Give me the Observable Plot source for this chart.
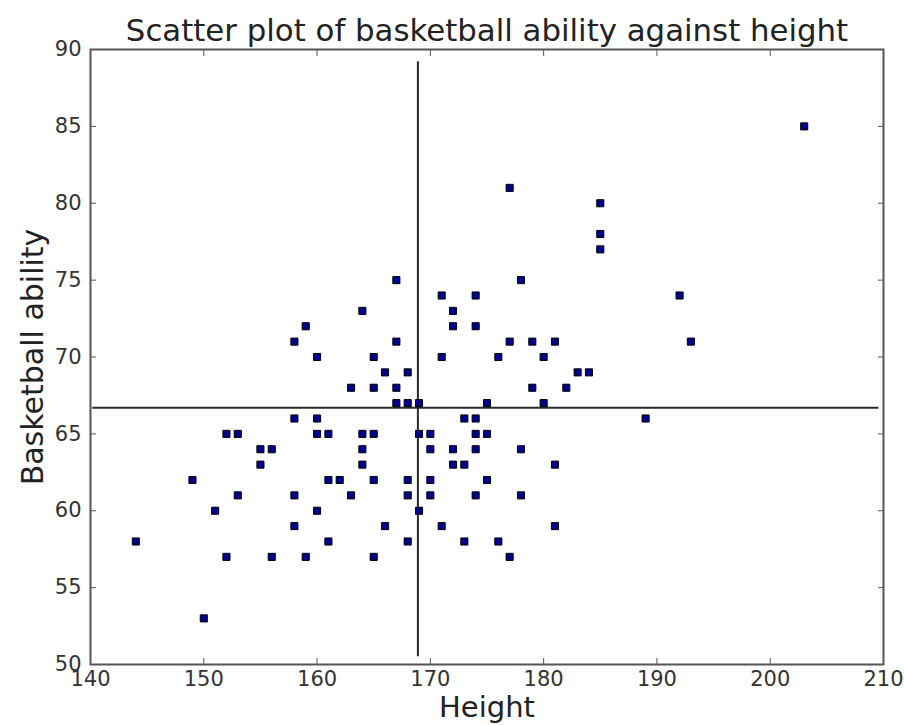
<!DOCTYPE html>
<html>
<head>
<meta charset="utf-8">
<script src="https://cdn.jsdelivr.net/npm/d3@7"></script>
<script src="https://cdn.jsdelivr.net/npm/@observablehq/plot@0.6"></script>
<style>
  html, body { margin: 0; padding: 0; background: #fff; }
  #chart svg { display: block; font-family: "DejaVu Sans", sans-serif; }
</style>
</head>
<body>
<div id="chart"></div>
<script>
// Data
const heights   = [144,149,150,151,152,152,153,153,155,155,156,156,
                   158,158,158,158,159,159,160,160,160,160,161,161,161,162,
                   163,163,164,164,164,164,165,165,165,165,165,166,166,
                   167,167,167,167,168,168,168,168,168,169,169,169,
                   170,170,170,170,171,171,171,172,172,172,172,173,173,173,
                   174,174,174,174,174,174,175,175,175,176,176,177,177,177,
                   178,178,178,179,179,180,180,181,181,181,182,183,184,
                   185,185,185,189,192,193,203];
const abilities = [58,62,53,60,65,57,65,61,64,63,64,57,
                   71,66,61,59,72,57,70,66,65,60,65,62,58,62,
                   68,61,73,65,64,63,70,68,65,62,57,69,59,
                   75,71,68,67,69,67,62,61,58,67,65,60,
                   65,64,62,61,74,70,59,73,72,64,63,66,63,58,
                   74,72,66,65,64,61,67,65,62,70,58,81,71,57,
                   75,64,61,71,68,70,67,71,63,59,68,69,69,
                   80,78,77,66,74,71,85];

// Reference lines
const meanHeight = 168.9;
const meanAbility = 66.7;
const vLineSpan = [50.5, 89.2];     // ability range covered by the vertical line
const hLineSpan = [140.2, 209.6];   // height range covered by the horizontal line

const xTicks = [140, 150, 160, 170, 180, 190, 200, 210];
const yTicks = [50, 55, 60, 65, 70, 75, 80, 85, 90];

const titleText = "Scatter plot of basketball ability against height";
const xLabel = "Height";
const yLabel = "Basketball ability";

const points = heights.map((h, i) => ({height: h, ability: abilities[i]}));

const chart = Plot.plot({
  width: 904,
  height: 725,
  marginLeft: 90,
  marginRight: 21,
  marginTop: 49,
  marginBottom: 61,
  style: {background: "#fff", fontFamily: "DejaVu Sans, sans-serif", color: "#333"},
  x: {domain: [140, 210]},
  y: {domain: [50, 90]},
  marks: [
    // tick labels
    Plot.axisX({ticks: xTicks, tickSize: 0, tickPadding: 7, fontSize: 21, label: null, color: "#333"}),
    Plot.axisY({ticks: yTicks, tickSize: 0, tickPadding: 9, fontSize: 21, label: null, color: "#333"}),
    // inward tick marks on all four sides
    Plot.axisX({ticks: xTicks, anchor: "bottom", tickSize: -6, fill: "none", label: null, stroke: "#555"}),
    Plot.axisX({ticks: xTicks, anchor: "top", tickSize: -6, fill: "none", label: null, stroke: "#555"}),
    Plot.axisY({ticks: yTicks, anchor: "left", tickSize: -6, fill: "none", label: null, stroke: "#555"}),
    Plot.axisY({ticks: yTicks, anchor: "right", tickSize: -6, fill: "none", label: null, stroke: "#555"}),
    // mean lines
    Plot.ruleX([meanHeight], {x: d => d, y1: vLineSpan[0], y2: vLineSpan[1], stroke: "#2a2a2a", strokeWidth: 2}),
    Plot.ruleY([meanAbility], {y: d => d, x1: hLineSpan[0], x2: hLineSpan[1], stroke: "#2a2a2a", strokeWidth: 2}),
    // points
    Plot.dot(points, {x: "height", y: "ability", symbol: "square", r: 4, fill: "#00008b", stroke: "#000", strokeWidth: 1}),
    Plot.frame({stroke: "#555", strokeWidth: 2}),
    // title and axis labels
    Plot.text([titleText], {frameAnchor: "top", textAnchor: "middle", lineAnchor: "bottom", dy: -9, fontSize: 30.8, fill: "#222"}),
    Plot.text([xLabel], {frameAnchor: "bottom", textAnchor: "middle", lineAnchor: "bottom", dy: 52, fontSize: 29, fill: "#222"}),
    Plot.text([yLabel], {frameAnchor: "left", textAnchor: "middle", lineAnchor: "bottom", dx: -48, rotate: -90, fontSize: 30, fill: "#222"})
  ]
});

document.getElementById("chart").appendChild(chart);
</script>
</body>
</html>
